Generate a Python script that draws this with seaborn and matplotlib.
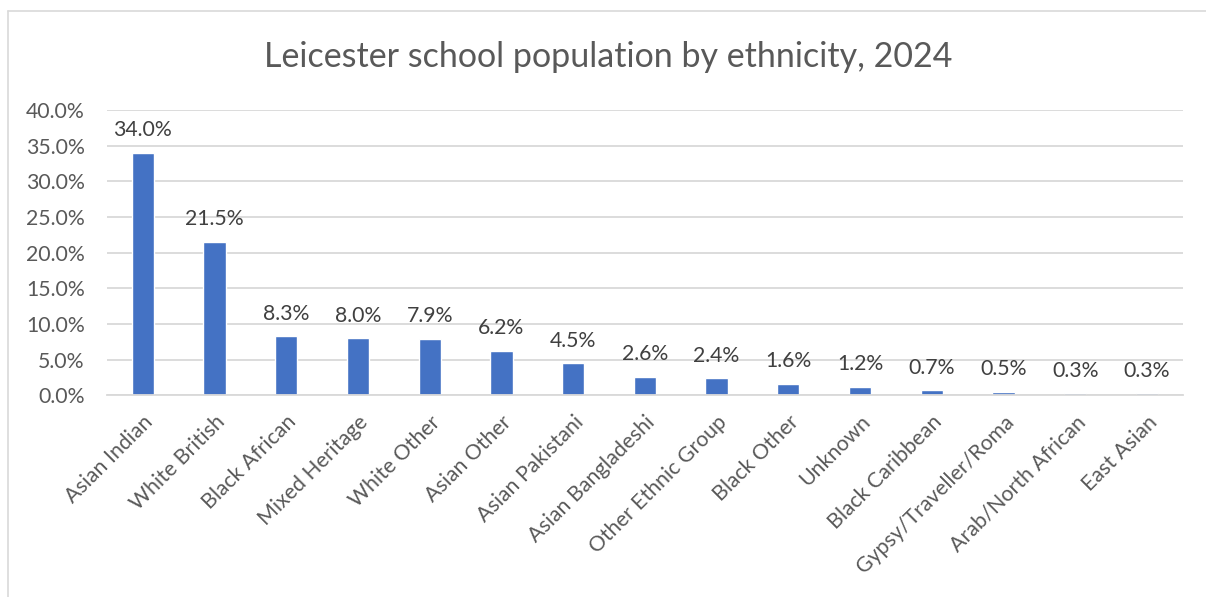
import matplotlib
matplotlib.use("Agg")
import matplotlib.pyplot as plt
import seaborn as sns
import pandas as pd
from matplotlib.ticker import FuncFormatter, MultipleLocator
from matplotlib.lines import Line2D

categories = ["Asian Indian", "White British", "Black African", "Mixed Heritage", "White Other",
              "Asian Other", "Asian Pakistani", "Asian Bangladeshi", "Other Ethnic Group",
              "Black Other", "Unknown", "Black Caribbean", "Gypsy/Traveller/Roma",
              "Arab/North African", "East Asian"]
values = [34.0, 21.5, 8.3, 8.0, 7.9, 6.2, 4.5, 2.6, 2.4, 1.6, 1.2, 0.7, 0.5, 0.3, 0.3]
title = "Leicester school population by ethnicity, 2024"

sns.set_theme(style="white")
plt.rcParams['font.family'] = ['Lato', 'DejaVu Sans']

df = pd.DataFrame({"cat": categories, "val": values})

fig = plt.figure(figsize=(12.06, 5.97), dpi=100)
ax = fig.add_axes([0.0887, 0.338, 0.892, 0.478])

sns.barplot(data=df, x="cat", y="val", color="#4472C4", width=0.31, ax=ax, saturation=1)

ax.set_ylim(0, 40)
ax.yaxis.set_major_locator(MultipleLocator(5))
ax.yaxis.set_major_formatter(FuncFormatter(lambda v, p: f"{v:.1f}%"))
ax.grid(axis="y", color="#d9d9d9", linewidth=1.3)
ax.set_axisbelow(True)
for s in ["top", "right", "left"]:
    ax.spines[s].set_visible(False)
ax.spines["bottom"].set_color("#d9d9d9")
ax.spines["bottom"].set_linewidth(1.3)
ax.set_xlim(-0.5, len(categories) - 0.5)
ax.set_xlabel("")
ax.set_ylabel("")
ax.tick_params(axis="y", labelsize=15.3, colors="#595959", length=0, pad=16)
ax.tick_params(axis="x", labelsize=15.3, colors="#595959", length=0, pad=12)
plt.setp(ax.get_xticklabels(), rotation=45, ha="right", rotation_mode="anchor")

for c in ax.containers:
    ax.bar_label(c, labels=[f"{v:.1f}%" for v in values], padding=9, fontsize=15.3, color="#404040")

fig.text(0.504, 0.905, title, ha="center", va="center", fontsize=24.5, color="#595959")

# outer chart border
fig.add_artist(Line2D([8/1206, 8/1206], [0, 1 - 11/597], transform=fig.transFigure, color="#d9d9d9", lw=1.2))
fig.add_artist(Line2D([8/1206, 1], [1 - 11/597, 1 - 11/597], transform=fig.transFigure, color="#d9d9d9", lw=1.2))

fig.savefig("out.png", dpi=100, facecolor="white")
